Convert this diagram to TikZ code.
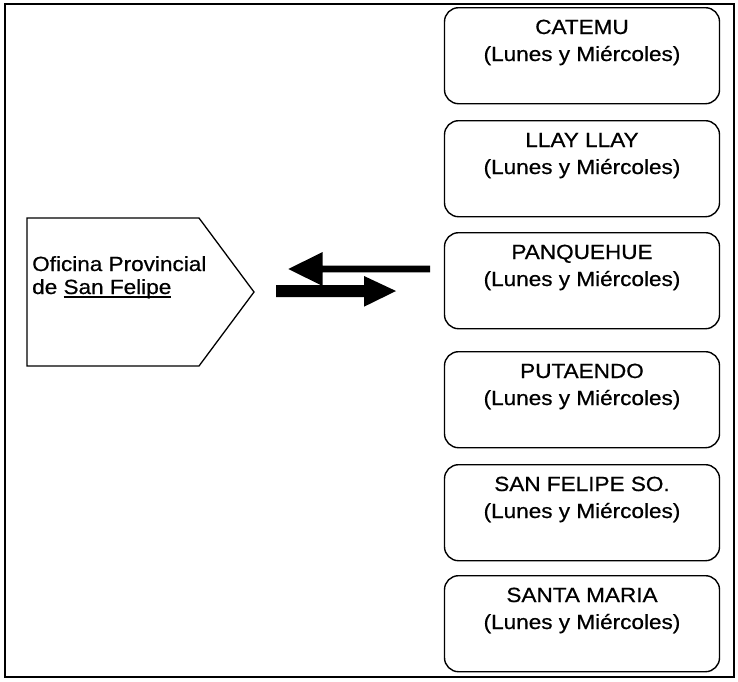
\documentclass[tikz,border=0pt]{standalone}
\usepackage{fontspec}
\setmainfont{Liberation Sans}[FakeBold=0.6,AutoFakeBold=0]
\newfontfamily\labelfont{Liberation Sans}[FakeBold=0.6]
% text is set slightly wider than the font's natural width
\newcommand\wide[1]{\scalebox{1.1}[1]{#1}}
% underline that runs through the descenders
\newlength\undlw
\newcommand\undl[1]{\settowidth\undlw{#1}\rlap{\rule[-3.6pt]{\undlw}{1.4pt}}#1}
\begin{document}
\begin{tikzpicture}[x=1pt,y=-1pt,
  every node/.style={inner sep=0pt, font=\labelfont\fontsize{20.5}{24}\selectfont},
  frame/.style={draw, line width=1.6pt},
  daybox/.style={draw, line width=1.4pt, rounded corners=14pt,
                 minimum width=275pt, minimum height=96pt},
  office/.style={draw, line width=1.3pt, line join=miter},
  blockarrow/.style={fill=black}]
\useasboundingbox (0,0) rectangle (738,681);

% outer frame
\draw[frame] (5,4) rectangle (734,677);

% communes with their attention days
\foreach \bx/\txt/\yt in {catemu/CATEMU/7, llay/LLAY LLAY/120,
    panquehue/PANQUEHUE/232, putaendo/PUTAENDO/351,
    sanfelipe/SAN FELIPE SO./464, santamaria/SANTA MARIA/575} {
  \node[daybox, anchor=north] (\bx) at (582,\yt) {};
  \node[anchor=base] (\bx-name) at ([yshift=-27pt]\bx.north) {\wide{\txt}};
  \node[anchor=base] (\bx-days) at ([yshift=-54pt]\bx.north) {\wide{(Lunes y Miércoles)}};
}

% provincial office (pentagon pointing right)
\draw[office] (27,218) coordinate (office-nw) -- (199,218) coordinate (office-ne)
  -- (254,292) coordinate (office-tip) -- (199,366) coordinate (office-se)
  -- (27,366) coordinate (office-sw) -- cycle;
\node[anchor=base west] (office-l1) at (32,271) {\wide{Oficina Provincial}};
\node[anchor=base west] (office-l2) at (32,294) {\wide{de \undl{San Felipe}}};

% exchange arrows
\fill[blockarrow] (430,265.7) -- (322.7,265.7) -- (322.7,252) -- (288.3,269)
  -- (322.7,286) -- (322.7,272.3) -- (430,272.3) -- cycle;
\fill[blockarrow] (276,285) -- (364,285) -- (364,276) -- (396,291)
  -- (364,306.7) -- (364,297) -- (276,297) -- cycle;
\end{tikzpicture}
\end{document}
